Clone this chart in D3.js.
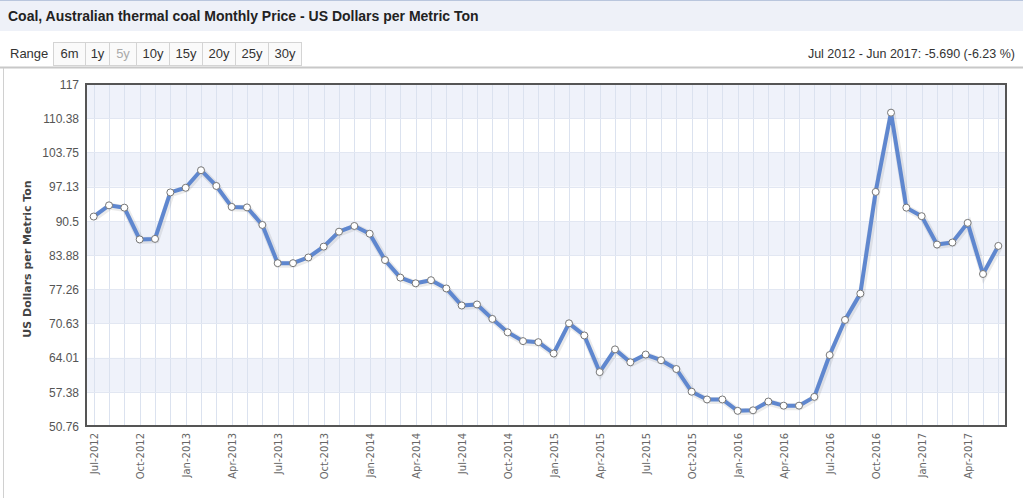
<!DOCTYPE html>
<html>
<head>
<meta charset="utf-8">
<script src="https://cdn.jsdelivr.net/npm/d3@7"></script>
<style>
  body { margin: 0; background: #fff; }
  svg { display: block; }
</style>
</head>
<body>
<div id="chart"></div>
<script>
// monthly price, Jul 2012 .. Jun 2017
var months = [
  "Jul-2012","Aug-2012","Sep-2012","Oct-2012","Nov-2012","Dec-2012",
  "Jan-2013","Feb-2013","Mar-2013","Apr-2013","May-2013","Jun-2013",
  "Jul-2013","Aug-2013","Sep-2013","Oct-2013","Nov-2013","Dec-2013",
  "Jan-2014","Feb-2014","Mar-2014","Apr-2014","May-2014","Jun-2014",
  "Jul-2014","Aug-2014","Sep-2014","Oct-2014","Nov-2014","Dec-2014",
  "Jan-2015","Feb-2015","Mar-2015","Apr-2015","May-2015","Jun-2015",
  "Jul-2015","Aug-2015","Sep-2015","Oct-2015","Nov-2015","Dec-2015",
  "Jan-2016","Feb-2016","Mar-2016","Apr-2016","May-2016","Jun-2016",
  "Jul-2016","Aug-2016","Sep-2016","Oct-2016","Nov-2016","Dec-2016",
  "Jan-2017","Feb-2017","Mar-2017","Apr-2017","May-2017","Jun-2017"
];
var prices = [
  91.33, 93.5, 93.05, 86.9, 87.0, 96.0,
  96.9, 100.3, 97.25, 93.2, 93.1, 89.7,
  82.3, 82.3, 83.4, 85.5, 88.4, 89.5,
  88.0, 82.9, 79.5, 78.4, 79.0, 77.4,
  74.1, 74.3, 71.5, 68.9, 67.2, 67.0,
  64.8, 70.65, 68.3, 61.2, 65.6, 63.1,
  64.6, 63.5, 61.8, 57.4, 55.9, 55.9,
  53.7, 53.8, 55.5, 54.7, 54.7, 56.4,
  64.5, 71.3, 76.4, 96.1, 111.45, 93.05,
  91.4, 85.9, 86.3, 90.1, 80.2, 85.64
];
var yTicks = [50.76, 57.38, 64.01, 70.63, 77.26, 83.88, 90.5, 97.13, 103.75, 110.38, 117];
var xLabels = months.filter(function(d, i) { return i % 3 == 0; });
var rangeButtons = ["6m", "1y", "5y", "10y", "15y", "20y", "25y", "30y"];

var title = "Coal, Australian thermal coal Monthly Price - US Dollars per Metric Ton";
var changeText = "Jul 2012 - Jun 2017: -5.690 (-6.23 %)";

var width = 1023, height = 498;
var plot = {left: 86, right: 1006, top: 84, bottom: 426};

var svg = d3.select("#chart").append("svg")
    .attr("width", width)
    .attr("height", height);

// title bar
svg.append("rect")
    .attr("x", 0).attr("y", 0)
    .attr("width", width).attr("height", 31)
    .attr("fill", "#eef1f8");
svg.append("line")
    .attr("x1", 0).attr("x2", width).attr("y1", 0.5).attr("y2", 0.5)
    .attr("stroke", "#b9c6dd");
svg.append("text")
    .attr("x", 8).attr("y", 21)
    .style("font", "bold 14px 'Liberation Sans', Arial, sans-serif")
    .attr("fill", "#222")
    .text(title);

// range selector
svg.append("text")
    .attr("x", 10).attr("y", 58)
    .style("font", "13px 'Liberation Sans', Arial, sans-serif")
    .attr("fill", "#333")
    .text("Range");

var btnWidths = {"6m": 32, "1y": 24, "5y": 27};
var bx = 53;
rangeButtons.forEach(function(b) {
    var w = btnWidths[b] || 33;
    svg.append("rect")
        .attr("x", bx + 0.5).attr("y", 42.5)
        .attr("width", w).attr("height", 23)
        .attr("fill", "#fafafa")
        .attr("stroke", "#d4d4d4");
    svg.append("text")
        .attr("x", bx + w / 2 + 0.5).attr("y", 58)
        .attr("text-anchor", "middle")
        .style("font", "13px 'Liberation Sans', Arial, sans-serif")
        .attr("fill", b == "5y" ? "#aaa" : "#333")
        .text(b);
    bx += w;
});

svg.append("text")
    .attr("x", 1015).attr("y", 58)
    .attr("text-anchor", "end")
    .style("font", "12.5px 'Liberation Sans', Arial, sans-serif")
    .attr("fill", "#333")
    .text(changeText);

// chart container
svg.append("line")
    .attr("x1", 0).attr("x2", width).attr("y1", 67.5).attr("y2", 67.5)
    .attr("stroke", "#c8c8c8").attr("stroke-width", 2);
svg.append("line")
    .attr("x1", 3.5).attr("x2", 3.5).attr("y1", 68).attr("y2", height)
    .attr("stroke", "#d0d0d0");

// scales
var x = d3.scalePoint()
    .domain(months)
    .range([plot.left, plot.right])
    .padding(0.5);
var y = d3.scaleLinear()
    .domain([yTicks[0], yTicks[yTicks.length - 1]])
    .range([plot.bottom, plot.top]);

// alternating bands
var bands = d3.pairs(yTicks);
svg.append("g").selectAll("rect")
    .data(bands)
    .enter().append("rect")
    .attr("x", plot.left)
    .attr("width", plot.right - plot.left)
    .attr("y", function(d) { return y(d[1]); })
    .attr("height", function(d) { return y(d[0]) - y(d[1]); })
    .attr("fill", function(d, i) { return i % 2 == 1 ? "#eff2fa" : "#ffffff"; });

// grid
svg.append("g").selectAll("line")
    .data(months)
    .enter().append("line")
    .attr("x1", function(d) { return Math.round(x(d)) + 0.5; })
    .attr("x2", function(d) { return Math.round(x(d)) + 0.5; })
    .attr("y1", plot.top).attr("y2", plot.bottom)
    .attr("stroke", "#dbe2ef");
svg.append("g").selectAll("line")
    .data(yTicks)
    .enter().append("line")
    .attr("x1", plot.left).attr("x2", plot.right)
    .attr("y1", function(d) { return Math.round(y(d)) + 0.5; })
    .attr("y2", function(d) { return Math.round(y(d)) + 0.5; })
    .attr("stroke", "#e2e7f2");

// axes
var yAxis = svg.append("g")
    .attr("transform", "translate(" + (plot.left - 4) + ",0)")
    .call(d3.axisLeft(y).tickValues(yTicks).tickSize(0).tickFormat(function(d) { return d; }));
yAxis.select(".domain").remove();
yAxis.selectAll("text")
    .style("font", "12px 'Liberation Sans', Arial, sans-serif")
    .attr("fill", "#555")
    .attr("dy", "0.35em");

var xAxis = svg.append("g")
    .attr("transform", "translate(0," + (plot.bottom + 5) + ")")
    .call(d3.axisBottom(x).tickValues(xLabels).tickSize(0));
xAxis.select(".domain").remove();
xAxis.selectAll("text")
    .style("font", "10px 'DejaVu Sans', Verdana, sans-serif")
    .attr("fill", "#666")
    .attr("text-anchor", "end")
    .attr("transform", "rotate(-90)")
    .attr("x", -2)
    .attr("y", 0)
    .attr("dy", "0.35em");

svg.append("text")
    .attr("transform", "translate(31," + ((plot.top + plot.bottom) / 2 + 4) + ") rotate(-90)")
    .attr("text-anchor", "middle")
    .style("font", "bold 11px 'DejaVu Sans', Verdana, sans-serif")
    .attr("fill", "#444")
    .text("US Dollars per Metric Ton");

// frame
svg.append("rect")
    .attr("x", plot.left).attr("y", plot.top)
    .attr("width", plot.right - plot.left)
    .attr("height", plot.bottom - plot.top)
    .attr("fill", "none")
    .attr("stroke", "#555")
    .attr("stroke-width", 2);

// series
var line = d3.line()
    .x(function(d, i) { return x(months[i]); })
    .y(function(d) { return y(d); });

svg.append("path")
    .datum(prices)
    .attr("d", line)
    .attr("fill", "none")
    .attr("stroke", "#000")
    .attr("stroke-opacity", 0.08)
    .attr("stroke-width", 7)
    .attr("transform", "translate(1,1)");
svg.append("path")
    .datum(prices)
    .attr("d", line)
    .attr("fill", "none")
    .attr("stroke", "#5f87cf")
    .attr("stroke-width", 4)
    .attr("stroke-linejoin", "round");

svg.append("g").selectAll("circle")
    .data(prices)
    .enter().append("circle")
    .attr("cx", function(d, i) { return x(months[i]); })
    .attr("cy", function(d) { return y(d); })
    .attr("r", 3.5)
    .attr("fill", "#fff")
    .attr("stroke", "#777")
    .attr("stroke-width", 1);
</script>
</body>
</html>
